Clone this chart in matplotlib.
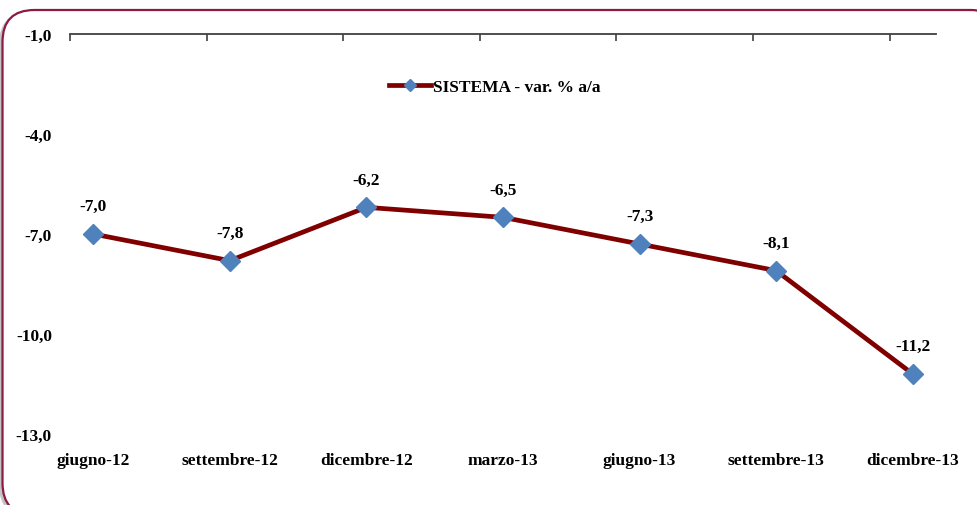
import matplotlib
matplotlib.use("Agg")
import matplotlib.pyplot as plt
from matplotlib.patches import FancyBboxPatch

categories = ["giugno-12", "settembre-12", "dicembre-12", "marzo-13",
              "giugno-13", "settembre-13", "dicembre-13"]
values = [-7.0, -7.8, -6.2, -6.5, -7.3, -8.1, -11.2]
y_ticks = [-1.0, -4.0, -7.0, -10.0, -13.0]
series_name = "SISTEMA - var. % a/a"

plt.rcParams["font.family"] = ["Liberation Serif", "DejaVu Serif"]
plt.rcParams["font.weight"] = "bold"
FS = 12.5

fig = plt.figure(figsize=(9.78, 5.06), dpi=100)
W, H = 978, 506

# cornice arrotondata con ombra (esce in parte dall'immagine)
shadow = FancyBboxPatch((-1 / W, -12 / H), 1000 / W, 505 / H, transform=fig.transFigure,
                        boxstyle="round,pad=0,rounding_size=%f" % (32 / W),
                        mutation_aspect=W / H, facecolor="#c4c4c4", edgecolor="none", zorder=-3)
frame = FancyBboxPatch((2.5 / W, -10 / H), 1000 / W, 505 / H, transform=fig.transFigure,
                       boxstyle="round,pad=0,rounding_size=%f" % (32 / W),
                       mutation_aspect=W / H, facecolor="white", edgecolor="#8B1A45",
                       linewidth=1.6, zorder=-2)
fig.patches.extend([shadow, frame])

ax = fig.add_axes([70 / W, 1 - 435 / H, 866 / W, 400 / H])
ax.set_facecolor("none")
x = list(range(len(categories)))

ax.plot(x, values, color="#800000", linewidth=3.4, marker="D", markersize=10,
        markerfacecolor="#4F81BD", markeredgecolor="#4F81BD", label=series_name, zorder=3)

for xi, v in zip(x, values):
    ax.annotate(f"{v:.1f}".replace(".", ","), (xi, v), xytext=(0, 20),
                textcoords="offset points", ha="center", va="center",
                fontsize=FS, fontweight="bold")

ax.set_xlim(-0.17, len(categories) - 1 + 0.17)
ax.set_ylim(-13, -1)
ax.set_yticks(y_ticks)
ax.set_yticklabels([f"{t:.1f}".replace(".", ",") for t in y_ticks], fontsize=FS, fontweight="bold")
ax.set_xticks(x)
ax.set_xticklabels(categories, fontsize=FS, fontweight="bold")
ax.set_xticks([i - 0.17 for i in x], minor=True)

ax.tick_params(axis="y", length=0, pad=13)
ax.tick_params(axis="x", which="major", length=0, pad=13, bottom=True, top=False)
ax.tick_params(axis="x", which="minor", bottom=False, top=True, direction="in",
               length=5, width=1.2, color="#404040")

for side in ["left", "right", "bottom"]:
    ax.spines[side].set_visible(False)
ax.spines["top"].set_color("#404040")
ax.spines["top"].set_linewidth(1.3)

leg = fig.legend(loc="center", bbox_to_anchor=(495 / W, 1 - 88 / H), frameon=False,
                 fontsize=FS, handlelength=2.4, handletextpad=0.15, markerscale=0.6)
for t in leg.get_texts():
    t.set_fontweight("bold")

fig.savefig("out.png", dpi=100)
